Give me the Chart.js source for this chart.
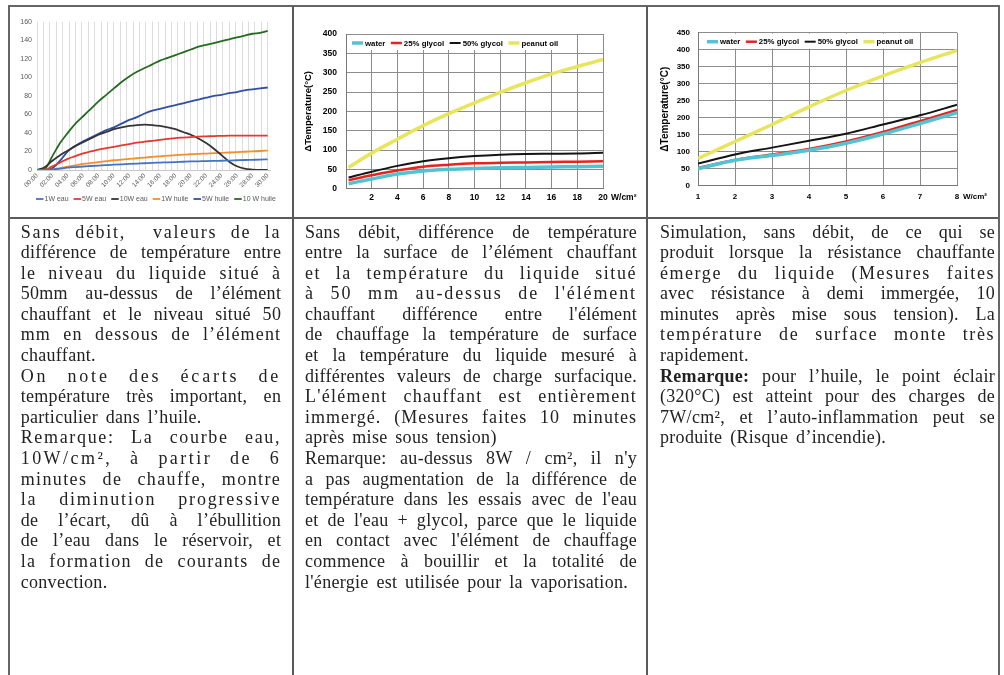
<!DOCTYPE html>
<html lang="fr">
<head>
<meta charset="utf-8">
<title>Écarts de température</title>
<script src="https://cdn.jsdelivr.net/npm/chart.js@4.4.1/dist/chart.umd.min.js"></script>
<style>
html, body { margin: 0; padding: 0; background: #fff; overflow: hidden; }
body { width: 1004px; height: 675px; position: relative; }
canvas { position: absolute; }
.cadre { position: absolute; left: 8px; top: 5px; width: 988px; height: 720px; border: 2px solid #666; border-bottom: none; }
.vline { position: absolute; top: 6px; width: 2px; height: 720px; background: #5a5a5a; }
.hline { position: absolute; top: 217px; left: 10px; width: 988px; height: 2px; background: #5a5a5a; }
.txt { position: absolute; top: 221.5px; font-family: "Liberation Serif", serif; font-size: 18px; line-height: 20.6px; color: #222; letter-spacing: 0.3px; word-spacing: 3px; }
.txt div { white-space: nowrap; text-align: justify; text-align-last: justify; }
.txt div.fin { text-align-last: left; }
</style>
</head>
<body>

<canvas id="graphe1" width="282" height="210" style="left:10px;top:7px"></canvas>
<canvas id="graphe2" width="350" height="208" style="left:295px;top:8px"></canvas>
<canvas id="graphe3" width="348" height="208" style="left:649px;top:8px"></canvas>

<div class="cadre"></div>
<div class="vline" style="left:292px"></div>
<div class="vline" style="left:646px"></div>
<div class="hline"></div>

<div class="txt" style="left:20.7px;width:260.5px">
  <div class="sp">Sans débit,&nbsp; valeurs de la</div>
  <div>différence de température entre</div>
  <div class="sp">le niveau du liquide situé à</div>
  <div>50mm au-dessus de l’élément</div>
  <div>chauffant et le niveau situé 50</div>
  <div class="sp">mm en dessous de l’élément</div>
  <div class="fin">chauffant.</div>
  <div class="sp">On note des écarts de</div>
  <div>température très important, en</div>
  <div class="fin">particulier dans l’huile.</div>
  <div class="sp">Remarque: La courbe eau,</div>
  <div class="sp">10W/cm², à partir de 6</div>
  <div class="sp">minutes de chauffe, montre</div>
  <div class="sp">la diminution progressive</div>
  <div>de l’écart, dû à l’ébullition</div>
  <div>de l’eau dans le réservoir, et</div>
  <div class="sp">la formation de courants de</div>
  <div class="fin">convection.</div>
</div>

<div class="txt" style="left:305px;width:332px">
  <div>Sans débit, différence de température</div>
  <div>entre la surface de l’élément chauffant</div>
  <div class="sp">et la température du liquide situé</div>
  <div class="sp">à 50 mm au-dessus de l'élément</div>
  <div>chauffant différence entre l'élément</div>
  <div>de chauffage la température de surface</div>
  <div>et la température du liquide mesuré à</div>
  <div>différentes valeurs de charge surfacique.</div>
  <div class="sp">L'élément chauffant est entièrement</div>
  <div class="sp">immergé. (Mesures faites 10 minutes</div>
  <div class="fin">après mise sous tension)</div>
  <div>Remarque: au-dessus 8W / cm², il n'y</div>
  <div>a pas augmentation de la différence de</div>
  <div>température dans les essais avec de l'eau</div>
  <div>et de l'eau + glycol, parce que le liquide</div>
  <div>en contact avec l'élément de chauffage</div>
  <div>commence à bouillir et la totalité de</div>
  <div class="fin">l'énergie est utilisée pour la vaporisation.</div>
</div>

<div class="txt" style="left:660px;width:335px">
  <div>Simulation, sans débit, de ce qui se</div>
  <div>produit lorsque la résistance chauffante</div>
  <div class="sp">émerge du liquide (Mesures faites</div>
  <div>avec résistance à demi immergée, 10</div>
  <div>minutes après mise sous tension). La</div>
  <div class="sp">température de surface monte très</div>
  <div class="fin">rapidement.</div>
  <div><b>Remarque:</b> pour l’huile, le point éclair</div>
  <div>(320°C) est atteint pour des charges de</div>
  <div>7W/cm², et l’auto-inflammation peut se</div>
  <div class="fin">produite (Risque d’incendie).</div>
</div>

<script>
// ---- graphe 1 : écart haut/bas selon le temps de chauffe (minutes) ----
const minutes = [0,1,2,3,4,5,6,7,8,9,10,11,12,13,14,15,16,17,18,19,20,21,22,23,24,25,26,27,28,29,30];
const etiquettesTemps = ['00:00','02:00','04:00','06:00','08:00','10:00','12:00','14:00','16:00','18:00','20:00','22:00','24:00','26:00','28:00','30:00'];
const eau1W    = [0,0,0.5,1.5,2.5,3.2,3.8,4.3,4.8,5.3,5.7,6.1,6.5,6.9,7.3,7.7,8,8.3,8.6,8.9,9.2,9.4,9.6,9.8,10,10.2,10.5,10.8,11,11.2,11.5];
const eau5W    = [0,0,4,8,12,15,18,20,22,23.5,25,26.5,28,29.5,30.5,31.5,32.5,33.5,34.5,35,35.5,36,36.3,36.6,36.8,37,37,37,37,37,37];
const eau10W   = [0,3,10,16,21,26,30,34,38,41,44,46,47.5,48.5,49,48.5,47.5,46,44,41,38,34,29,23,16,9,4,1.5,0.5,0,0];
const huile1W  = [0,0,0.5,2,3.5,5,6.5,7.5,8.5,9.5,10.5,11.3,12,12.7,13.4,14.1,14.8,15.4,16,16.5,17,17.3,17.7,18.1,18.5,18.9,19.3,19.7,20.1,20.5,21];
const huile5W  = [0,0,2,10,20,26,31,35,39,43,46,50,54,57,61,64,66,68,70,72,74,76,78,80,81,83,84,86,87,88,89];
const huile10W = [0,1,15,29,40,50,58,66,74,81,88,95,101,106,110,114,118,121,124,127,130,133,135,137,139,141,143,145,147,148,150];

// ---- graphe 2 : élément immergé, charge 0-20 W/cm² ----
const charge20   = [0.2,2,4,6,8,10,12,14,16,18,20];
const eau20      = [13,25,38,46,50,52.5,54,55,56,57,58];
const glycol25a  = [22,35,47,57,62,65.5,67,68,69,70,71];
const glycol50a  = [29,44,59,71,79,84.5,88,90,90.5,91,93];
const arachide20 = [55,92,128,163,194,222,249,274,297,316,334];

// ---- graphe 3 : élément à demi immergé, charge 1-8 W/cm² ----
const charge8   = [1,2,3,4,5,6,7,8];
const eau8      = [50,75,89,104,125,152,183,215];
const glycol25b = [52,76,92,108,130,158,190,223];
const glycol50b = [65,92,112,132,153,180,207,238];
const arachide8 = [80,130,180,232,280,323,362,398];

const nomsLiquides = ['water', '25% glycol', '50% glycol', 'peanut oil'];

Chart.defaults.font.family = '"Liberation Sans", Arial, sans-serif';

function points(xs, ys) {
    return xs.map(function(x, i) { return {x: x, y: ys[i]}; });
}

// légende dessinée en ligne (trait + libellé)
const legendeEnLigne = {
    id: 'legendeEnLigne',
    afterDraw: function(chart, args, o) {
        var ctx = chart.ctx;
        ctx.save();
        ctx.font = o.font;
        var x = o.x, y = o.y;
        if (o.fond) {
            var total = 0;
            chart.data.datasets.forEach(function(ds) {
                total += o.trait + o.ecart + ctx.measureText(ds.label).width + o.espace;
            });
            ctx.fillStyle = '#fff';
            ctx.fillRect(x - 4, chart.chartArea.top + 1, total + 4, y - chart.chartArea.top + 6);
        }
        chart.data.datasets.forEach(function(ds) {
            ctx.strokeStyle = ds.borderColor;
            ctx.lineWidth = o.epaisseur || ds.borderWidth;
            ctx.beginPath();
            ctx.moveTo(x, y);
            ctx.lineTo(x + o.trait, y);
            ctx.stroke();
            x += o.trait + o.ecart;
            ctx.fillStyle = o.couleur;
            ctx.textBaseline = 'middle';
            ctx.fillText(ds.label, x, y + 0.5);
            x += ctx.measureText(ds.label).width + o.espace;
        });
        ctx.restore();
    }
};

// unité W/cm² après la dernière graduation
const uniteAxe = {
    id: 'uniteAxe',
    afterDraw: function(chart, args, o) {
        var sx = chart.scales.x, ctx = chart.ctx;
        ctx.save();
        ctx.font = o.font;
        ctx.fillStyle = '#000';
        ctx.textBaseline = 'middle';
        ctx.fillText('W/cm²', sx.getPixelForValue(sx.max) + o.decalage, o.y);
        ctx.restore();
    }
};

new Chart(document.getElementById('graphe1'), {
    type: 'line',
    data: {
        datasets: [
            {label: '1W eau', data: points(minutes, eau1W), borderColor: '#4472c4'},
            {label: '5W eau', data: points(minutes, eau5W), borderColor: '#e23a30'},
            {label: '10W eau', data: points(minutes, eau10W), borderColor: '#353535'},
            {label: '1W huile', data: points(minutes, huile1W), borderColor: '#f28e2b'},
            {label: '5W huile', data: points(minutes, huile5W), borderColor: '#2f4ea6'},
            {label: '10 W huile', data: points(minutes, huile10W), borderColor: '#246b1f'}
        ].map(function(ds) {
            return Object.assign(ds, {borderWidth: 1.8, pointRadius: 0, cubicInterpolationMode: 'monotone'});
        })
    },
    options: {
        responsive: false,
        animation: false,
        devicePixelRatio: 1,
        layout: {padding: {left: 0, right: 22, top: 14.7, bottom: 17}},
        plugins: {
            legend: {display: false},
            tooltip: {enabled: false},
            legendeEnLigne: {x: 26, y: 192, trait: 7.5, ecart: 1, espace: 5, epaisseur: 1.8,
                             font: '7px "Liberation Sans"', couleur: '#595959'}
        },
        scales: {
            x: {
                type: 'linear', min: 0, max: 30.3,
                grid: {display: false, drawTicks: false},
                border: {color: '#c8c8c8'},
                ticks: {
                    stepSize: 2, includeBounds: false, autoSkip: false,
                    maxRotation: 45, minRotation: 45, padding: 2,
                    color: '#595959', font: {size: 6.5},
                    callback: function(v) { return etiquettesTemps[v / 2] || ''; }
                },
                afterFit: function(axis) { axis.height = 30; }
            },
            xg: {
                type: 'linear', position: 'bottom', min: 0, max: 30.3,
                grid: {color: '#dcdcdc', drawTicks: false},
                border: {display: false},
                ticks: {display: false, stepSize: 5 / 6, includeBounds: false, maxTicksLimit: 100},
                afterFit: function(axis) { axis.height = 0; }
            },
            y: {
                min: 0, max: 160,
                grid: {display: false, drawTicks: false},
                border: {display: false},
                ticks: {stepSize: 20, padding: 5, color: '#595959', font: {size: 7}},
                afterFit: function(axis) { axis.width = 27; }
            }
        }
    },
    plugins: [legendeEnLigne]
});

function grapheCharge(id, xs, series, reglages) {
    var couleurs = ['#52c3d2', '#e5241f', '#141414', '#e7e55c'];
    var epaisseurs = [3.5, 2.5, 2, 3.5];
    return new Chart(document.getElementById(id), {
        type: 'line',
        data: {
            datasets: series.map(function(s, i) {
                return {
                    label: nomsLiquides[i], data: points(xs, s),
                    borderColor: couleurs[i], borderWidth: epaisseurs[i],
                    pointRadius: 0, cubicInterpolationMode: 'monotone'
                };
            })
        },
        options: {
            responsive: false,
            animation: false,
            devicePixelRatio: 1,
            layout: {padding: reglages.padding},
            plugins: {
                legend: {display: false},
                tooltip: {enabled: false},
                legendeEnLigne: {x: reglages.legX, y: reglages.legY, trait: 11, ecart: 2, espace: 5.5,
                                 epaisseur: null, fond: true,
                                 font: 'bold 7.8px "Liberation Sans"', couleur: '#000'},
                uniteAxe: {y: reglages.uniteY, decalage: reglages.uniteDecalage, font: 'bold ' + reglages.police + 'px "Liberation Sans"'}
            },
            scales: {
                x: {
                    type: 'linear', min: reglages.xMin, max: reglages.xMax,
                    grid: {color: '#8c8c8c', drawTicks: false},
                    border: {color: '#777'},
                    ticks: {
                        stepSize: reglages.xPas, padding: reglages.xPadding, color: '#000',
                        font: {size: reglages.police, weight: 'bold'},
                        callback: function(v) { return v === 0 ? '' : v; }
                    },
                    afterFit: function(axis) { axis.height = 20; }
                },
                y: {
                    min: 0, max: reglages.yMax,
                    grid: {color: '#8c8c8c', drawTicks: false},
                    border: {color: '#777'},
                    ticks: {stepSize: 50, padding: reglages.yPadding, color: '#000',
                            font: {size: reglages.police, weight: 'bold'}},
                    title: {display: true, text: 'ΔTemperature(°C)', padding: 0, color: '#000',
                            font: {size: reglages.titre, weight: 'bold'}},
                    afterFit: function(axis) { axis.width = reglages.yLargeur; }
                }
            }
        },
        plugins: [legendeEnLigne, uniteAxe]
    });
}

grapheCharge('graphe2', charge20, [eau20, glycol25a, glycol50a, arachide20], {
    padding: {left: 7.3, right: 42, top: 26, bottom: 7.3},
    xMin: 0, xMax: 20, xPas: 2, yMax: 400, xPadding: 4, yPadding: 9,
    yLargeur: 43.7, police: 8.5, titre: 9.5,
    legX: 57, legY: 35, uniteY: 189.7, uniteDecalage: 8
});

grapheCharge('graphe3', charge8, [eau8, glycol25b, glycol50b, arachide8], {
    padding: {left: 10, right: 40, top: 24.7, bottom: 10.3},
    xMin: 1, xMax: 8, xPas: 1, yMax: 450, xPadding: 6, yPadding: 8,
    yLargeur: 39, police: 8, titre: 10,
    legX: 58, legY: 33.7, uniteY: 188.7, uniteDecalage: 6
});

// lignes très étirées dans le document : une partie de l'écart passe en interlettrage
var mesure = document.createElement('canvas').getContext('2d');
mesure.font = '18px "Liberation Serif"';
document.querySelectorAll('.txt').forEach(function(bloc) {
    var largeur = parseFloat(bloc.style.width);
    bloc.querySelectorAll('div.sp').forEach(function(ligne) {
        var t = ligne.textContent;
        var espaces = (t.match(/ /g) || []).length;
        var reste = largeur - mesure.measureText(t).width - 0.3 * t.length - 3 * espaces;
        if (reste > 0) {
            ligne.style.letterSpacing = (0.3 + reste * 0.6 / t.length) + 'px';
        }
    });
});
</script>
</body>
</html>
